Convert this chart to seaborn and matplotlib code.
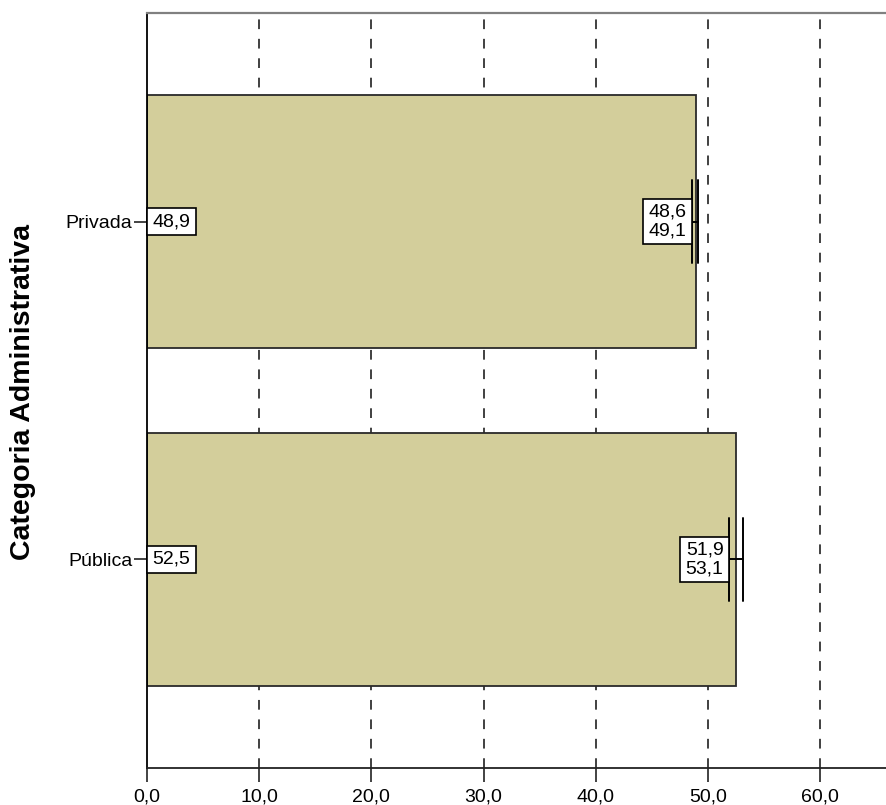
import numpy as np
import pandas as pd
import matplotlib
matplotlib.use("Agg")
import matplotlib.pyplot as plt
import seaborn as sns

# ---- data ----
categories = ["Privada", "Pública"]
means = [48.9, 52.5]
ci_low = [48.6, 51.9]
ci_high = [49.1, 53.1]
mean_labels = ["48,9", "52,5"]
ci_labels = ["48,6\n49,1", "51,9\n53,1"]
xticks = [0, 10, 20, 30, 40, 50, 60]
xtick_labels = ["0,0", "10,0", "20,0", "30,0", "40,0", "50,0", "60,0"]
ylabel = "Categoria Administrativa"

sns.set_theme(style="white")
plt.rcParams["font.family"] = ["Liberation Sans", "DejaVu Sans"]
plt.rcParams["lines.scale_dashes"] = False
plt.rcParams["text.color"] = "black"

W, H = 887, 805
fig = plt.figure(figsize=(W / 100, H / 100), dpi=100)
ax = fig.add_axes([147 / W, (H - 768) / H, (W - 147) / W, (768 - 13) / H])

df = pd.DataFrame({"cat": categories, "mean": means})
sns.barplot(data=df, x="mean", y="cat", orient="h", color="#D3CE9B",
            saturation=1, edgecolor="#2a2a2a", linewidth=1.3, width=0.75,
            errorbar=None, ax=ax, zorder=2)

ax.set_xlim(0, (W - 147) / 11.217)
ax.set_ylim(1.617, -0.617)
ax.set_xticks(xticks)
ax.set_xticklabels(xtick_labels)
ax.set_xlabel("")
ax.set_ylabel("")

for x in xticks[1:]:
    ax.axvline(x, color="#404040", lw=1.4, linestyle=(0, (7, 7)), zorder=0.5)

cap = 0.123
pad = 0.27
for i, (lo, hi) in enumerate(zip(ci_low, ci_high)):
    ax.plot([lo, lo], [i - cap, i + cap], color="black", lw=1.4, zorder=4)
    ax.plot([hi, hi], [i - cap, i + cap], color="black", lw=1.4, zorder=4)
    ax.plot([lo, hi], [i, i], color="black", lw=1.4, zorder=4)
    ax.annotate(ci_labels[i], xy=(lo, i), xytext=(-14 * pad - 0.3, 0),
                textcoords="offset points", ha="right", va="center",
                fontsize=14, linespacing=1.1, color="black",
                bbox=dict(boxstyle=f"square,pad={pad}", fc="white", ec="black", lw=1.2),
                zorder=5)
    ax.annotate(mean_labels[i], xy=(0, i), xytext=(14 * pad + 0.3, 0),
                textcoords="offset points", ha="left", va="center",
                fontsize=14, color="black",
                bbox=dict(boxstyle=f"square,pad={pad}", fc="white", ec="black", lw=1.2),
                zorder=5)

ax.spines["right"].set_visible(False)
ax.spines["top"].set_color("#808080")
ax.spines["top"].set_linewidth(1.6)
ax.spines["left"].set_color("black")
ax.spines["left"].set_linewidth(1.3)
ax.spines["bottom"].set_color("#222222")
ax.spines["bottom"].set_linewidth(1.3)

ax.tick_params(axis="x", bottom=True, direction="out", length=10, width=1.2,
               pad=5, labelsize=14, color="#222222", labelcolor="black")
ax.tick_params(axis="y", left=True, direction="out", length=9.5, width=1.2,
               pad=1, labelsize=14, color="#222222", labelcolor="black")

fig.text(23 / W, 1 - 392 / H, ylabel, rotation=90, ha="center", va="center",
         fontsize=20.5, fontweight="bold", color="black")

fig.savefig("out.png", dpi=100)
